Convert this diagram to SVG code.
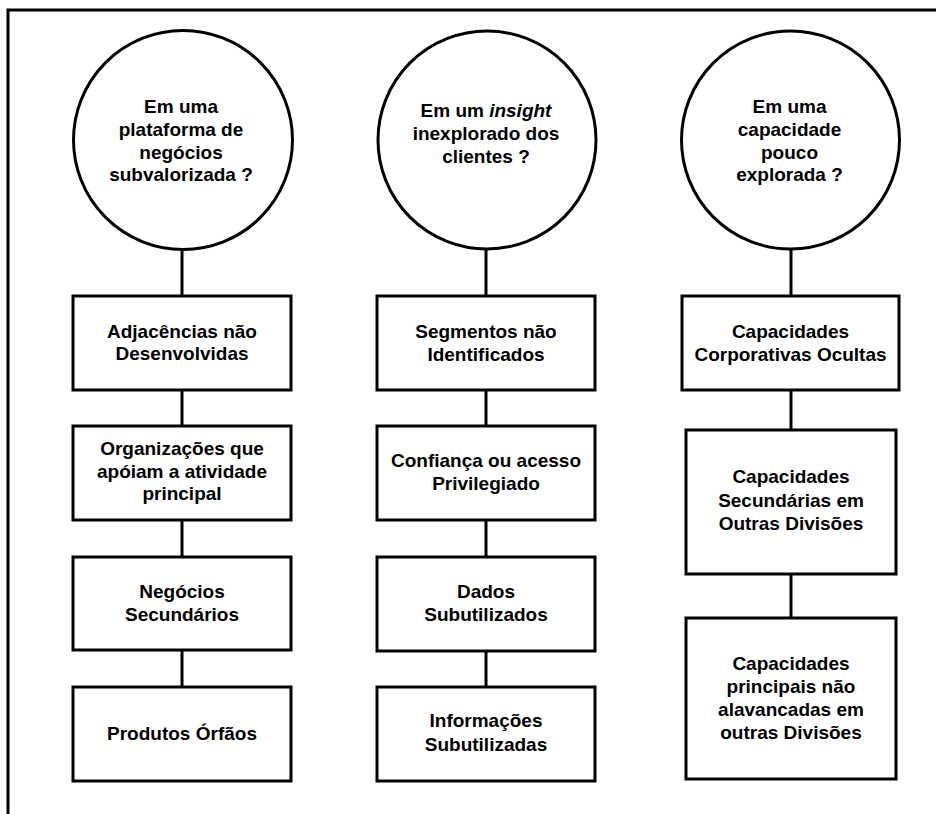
<svg xmlns="http://www.w3.org/2000/svg" width="936" height="814" viewBox="0 0 936 814">
<style>
.n{fill:#fff;stroke:#000;stroke-width:3}
.c{fill:none;stroke:#000;stroke-width:3}
text{font-family:"Liberation Sans",Arial,sans-serif;font-weight:bold;font-size:19px;fill:#000;text-anchor:middle}
</style>
<rect width="936" height="814" fill="#fff"/>
<path class="c" d="M8,814 V10 H936"/>
<g id="connectors">
<path class="c" d="M182,250 V296 M182,390 V426 M182,520 V557 M182,650 V687"/>
<path class="c" d="M486,249 V296 M486,390 V426 M486,520 V557 M486,651 V687"/>
<path class="c" d="M791,249 V296 M791,390 V430 M791,574 V618"/>
</g>
<g id="q1"><circle class="n" cx="183" cy="140" r="109.5"/>
<text x="181" y="113">Em uma</text><text x="181" y="136">plataforma de</text><text x="181" y="159">negócios</text><text x="181" y="181">subvalorizada ?</text></g>
<g id="q2"><circle class="n" cx="487" cy="140" r="109"/>
<text x="486" y="117">Em um <tspan font-style="italic">insight</tspan></text><text x="486" y="140">inexplorado dos</text><text x="486" y="163">clientes ?</text></g>
<g id="q3"><circle class="n" cx="790.5" cy="140" r="109"/>
<text x="789.5" y="113">Em uma</text><text x="789.5" y="136">capacidade</text><text x="789.5" y="158.5">pouco</text><text x="789.5" y="181">explorada ?</text></g>
<g id="a1"><rect class="n" x="73" y="296" width="218" height="94"/>
<text x="182" y="337.5">Adjacências não</text><text x="182" y="360">Desenvolvidas</text></g>
<g id="a2"><rect class="n" x="73" y="426" width="218" height="94"/>
<text x="182" y="455">Organizações que</text><text x="182" y="477.5">apóiam a atividade</text><text x="182" y="500">principal</text></g>
<g id="a3"><rect class="n" x="73" y="557" width="218" height="93"/>
<text x="182" y="597.5">Negócios</text><text x="182" y="620.5">Secundários</text></g>
<g id="a4"><rect class="n" x="73" y="687" width="218" height="94"/>
<text x="182" y="740">Produtos Órfãos</text></g>
<g id="b1"><rect class="n" x="377" y="296" width="218" height="94"/>
<text x="486" y="338">Segmentos não</text><text x="486" y="360.5">Identificados</text></g>
<g id="b2"><rect class="n" x="377" y="426" width="218" height="94"/>
<text x="486" y="467">Confiança ou acesso</text><text x="486" y="490">Privilegiado</text></g>
<g id="b3"><rect class="n" x="377" y="557" width="218" height="94"/>
<text x="486" y="597.5">Dados</text><text x="486" y="621">Subutilizados</text></g>
<g id="b4"><rect class="n" x="377" y="687" width="218" height="94"/>
<text x="486" y="727">Informações</text><text x="486" y="750.5">Subutilizadas</text></g>
<g id="c1"><rect class="n" x="682" y="296" width="217" height="94"/>
<text x="790.5" y="338">Capacidades</text><text x="790.5" y="361">Corporativas Ocultas</text></g>
<g id="c2"><rect class="n" x="686" y="430" width="210" height="144"/>
<text x="791" y="483">Capacidades</text><text x="791" y="506.5">Secundárias em</text><text x="791" y="530">Outras Divisões</text></g>
<g id="c3"><rect class="n" x="686" y="618" width="210" height="161"/>
<text x="791" y="670">Capacidades</text><text x="791" y="693">principais não</text><text x="791" y="716">alavancadas em</text><text x="791" y="739">outras Divisões</text></g>
</svg>
